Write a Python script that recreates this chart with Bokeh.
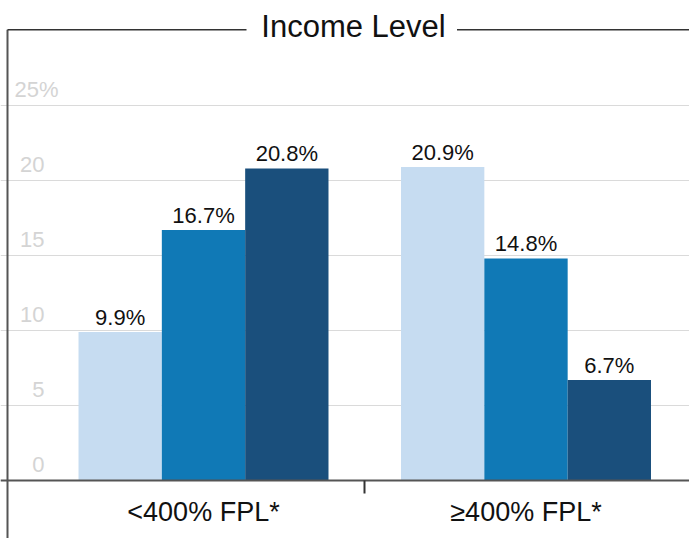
from bokeh.plotting import figure
from bokeh.models import Range1d, LinearAxis, FixedTicker, Grid
from bokeh.core.properties import value
from bokeh.embed import file_html
from bokeh.resources import INLINE

# ---- data ----
groups = ["<400% FPL*", "≥400% FPL*"]
series_1 = [9.9, 20.9]
series_2 = [16.7, 14.8]
series_3 = [20.8, 6.7]
series_colors = ["#c6dcf1", "#1079b6", "#1a4f7c"]
tick_vals = [0, 5, 10, 15, 20, 25]
tick_labels = ["0", "5", "10", "15", "20", "25%"]
title_text = "Income Level"

FONT_NAME = "Liberation Sans"
FONT = value(FONT_NAME)
W, H = 689, 538
# scales (pixels per unit)
SX = 322.5
SY = 15.0
XS = 0.5 - 203.0 / SX
XE = XS + W / SX
YE = 480.0 / SY
YS = YE - H / SY


def X(px):
    return XS + px / SX


def Y(py):
    return YE - py / SY


p = figure(width=W, height=H, x_range=Range1d(XS, XE), y_range=Range1d(YS, YE),
           x_axis_type=None, y_axis_type=None, toolbar_location=None,
           output_backend="svg", min_border=0, title=None)
p.outline_line_color = None
p.background_fill_color = "white"
p.border_fill_color = "white"

grid = Grid(dimension=1, ticker=FixedTicker(ticks=tick_vals),
            grid_line_color="#dadada", grid_line_width=1)
p.add_layout(grid)

# bars
bw = 83.33 / SX
all_series = [series_1, series_2, series_3]
for j, vals in enumerate(all_series):
    xs = [i + 0.5 + (j - 1) * bw for i in range(len(groups))]
    p.vbar(x=xs, top=vals, bottom=0, width=bw, fill_color=series_colors[j],
           line_color=None)
    p.text(x=xs, y=vals, text=[f"{v:.1f}%" for v in vals], text_align="center",
           text_baseline="middle", y_offset=-15, text_font=FONT,
           text_font_size="22px", text_color="#111111")

# y tick labels (numbers right-aligned, percent sign hanging)
p.text(x=[XS] * (len(tick_vals) - 1), y=tick_vals[:-1], text=tick_labels[:-1],
       text_align="right", text_baseline="middle", x_offset=44, y_offset=-16,
       text_font=FONT, text_font_size="22px", text_color="#d4d4d4")
p.text(x=[XS], y=tick_vals[-1:], text=tick_labels[-1:],
       text_align="right", text_baseline="middle", x_offset=58, y_offset=-16,
       text_font=FONT, text_font_size="22px", text_color="#d4d4d4")

# x axis on the zero line
ax = LinearAxis(fixed_location=0,
                ticker=FixedTicker(ticks=[i + 0.5 for i in range(len(groups))],
                                   minor_ticks=[float(i) for i in range(1, len(groups))]),
                major_label_overrides={i + 0.5: g for i, g in enumerate(groups)})
ax.axis_line_color = "#555555"
ax.axis_line_width = 2
ax.major_tick_line_color = None
ax.major_tick_out = 0
ax.major_tick_in = 0
ax.minor_tick_line_color = "#333333"
ax.minor_tick_line_width = 2
ax.minor_tick_out = 13
ax.minor_tick_in = 0
ax.major_label_standoff = 3
ax.major_label_text_font = FONT_NAME
ax.major_label_text_font_size = "27px"
ax.major_label_text_font_style = "normal"
ax.major_label_text_color = "#111111"
p.add_layout(ax, "below")

# frame lines: left border and top line broken by the title
p.segment(x0=[X(7)], y0=[Y(29.3)], x1=[X(7)], y1=[YS], line_color="#555555",
          line_width=2)
p.segment(x0=[X(7), X(456.5)], y0=[Y(29.3)] * 2, x1=[X(246), XE], y1=[Y(29.3)] * 2,
          line_color="#333333", line_width=1.5)
p.text(x=[X(353)], y=[Y(26)], text=[title_text], text_align="center",
       text_baseline="middle", text_font=FONT, text_font_size="31px",
       text_color="#111111")

open("out.html", "w").write(file_html(p, INLINE))
